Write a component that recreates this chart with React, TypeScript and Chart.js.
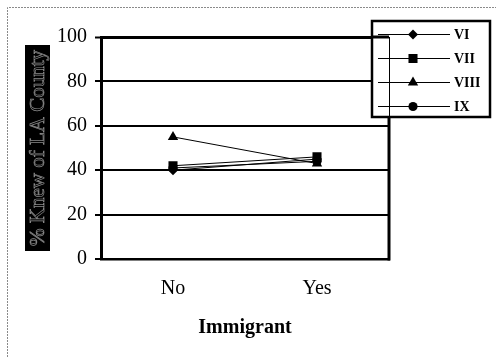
import React, { useEffect, useRef } from 'react';
import { Chart, registerables } from 'chart.js';

Chart.register(...registerables);

// Survey results: share who knew of LA County, by immigrant status
const categories = ['No', 'Yes'];
const seriesNames = ['VI', 'VII', 'VIII', 'IX'];
const seriesVI = [40, 45];
const seriesVII = [42, 46];
const seriesVIII = [55, 43];
const seriesIX = [41, 44];
const markerStyles = ['rectRot', 'rect', 'triangle', 'circle'];
const markerRadii = [5, 6.4, 6, 4.6];
const yMin = 0;
const yMax = 100;
const yStep = 20;
const yTitle = '% Knew of LA County';
const xTitle = 'Immigrant';

const SERIF = '"Liberation Serif", "Times New Roman", serif';

function drawMarker(ctx: CanvasRenderingContext2D, style: string, r: number, x: number, y: number) {
  ctx.save();
  ctx.fillStyle = '#000';
  ctx.beginPath();
  if (style === 'rectRot') {
    ctx.moveTo(x, y - r);
    ctx.lineTo(x + r, y);
    ctx.lineTo(x, y + r);
    ctx.lineTo(x - r, y);
    ctx.closePath();
  } else if (style === 'rect') {
    const s = r * Math.SQRT1_2;
    ctx.rect(x - s, y - s, 2 * s, 2 * s);
  } else if (style === 'triangle') {
    const h = r * 1.5;
    ctx.moveTo(x, y - r);
    ctx.lineTo(x + r * 0.866, y + h - r);
    ctx.lineTo(x - r * 0.866, y + h - r);
    ctx.closePath();
  } else {
    ctx.arc(x, y, r, 0, Math.PI * 2);
  }
  ctx.fill();
  ctx.restore();
}

// Page frame, rotated y-axis caption on its dark panel, plot edge and legend
const framePlugin = {
  id: 'frame',
  beforeDraw(chart: any) {
    const { ctx, width, height } = chart;
    ctx.save();
    ctx.fillStyle = '#fff';
    ctx.fillRect(0, 0, width, height);
    ctx.strokeStyle = '#8a8a8a';
    ctx.lineWidth = 1;
    ctx.setLineDash([2, 1]);
    ctx.beginPath();
    ctx.moveTo(7.5, height + 2);
    ctx.lineTo(7.5, 7.5);
    ctx.lineTo(width, 7.5);
    ctx.stroke();
    ctx.setLineDash([]);

    ctx.fillStyle = '#000';
    ctx.fillRect(25, 45, 25, 206);
    ctx.translate(37.5, 148);
    ctx.rotate(-Math.PI / 2);
    ctx.font = `21px ${SERIF}`;
    ctx.textAlign = 'center';
    ctx.textBaseline = 'middle';
    ctx.strokeStyle = '#8c8c8c';
    ctx.lineWidth = 0.7;
    ctx.strokeText(yTitle, 0, 1);
    ctx.restore();
  },
  afterDraw(chart: any) {
    const { ctx, chartArea } = chart;
    const { top, bottom, right } = chartArea;
    ctx.save();
    // right edge of the plot
    ctx.strokeStyle = '#000';
    ctx.lineWidth = 3;
    ctx.beginPath();
    ctx.moveTo(right, top - 1.5);
    ctx.lineTo(right, bottom + 1.5);
    ctx.stroke();

    // legend box
    const lx = 372, ly = 21, lw = 118, lh = 96;
    ctx.fillStyle = '#fff';
    ctx.fillRect(lx, ly, lw, lh);
    ctx.lineWidth = 1;
    ctx.beginPath();
    ctx.moveTo(right + 0.5, top);
    ctx.lineTo(right + 0.5, ly + lh);
    ctx.stroke();
    ctx.lineWidth = 3;
    ctx.beginPath();
    ctx.moveTo(lx, top);
    ctx.lineTo(right, top);
    ctx.stroke();
    ctx.lineWidth = 2.5;
    ctx.strokeRect(lx, ly, lw, lh);

    ctx.font = `bold 14px ${SERIF}`;
    ctx.textAlign = 'left';
    ctx.textBaseline = 'middle';
    ctx.fillStyle = '#000';
    chart.data.datasets.forEach((ds: any, i: number) => {
      const y = 34.5 + i * 24;
      ctx.lineWidth = 1;
      ctx.strokeStyle = '#000';
      ctx.beginPath();
      ctx.moveTo(378, y);
      ctx.lineTo(450, y);
      ctx.stroke();
      drawMarker(ctx, ds.pointStyle, ds.pointRadius, 413, y);
      ctx.fillText(ds.label, 454, y + 1);
    });
    ctx.restore();
  },
};

const seriesValues = [seriesVI, seriesVII, seriesVIII, seriesIX];

export default function App() {
  const canvasRef = useRef<HTMLCanvasElement | null>(null);

  useEffect(() => {
    if (!canvasRef.current) return;
    const chart = new Chart(canvasRef.current, {
      type: 'line',
      data: {
        labels: categories,
        datasets: seriesNames.map((name, i) => ({
          label: name,
          data: seriesValues[i],
          borderColor: '#000',
          borderWidth: 1,
          backgroundColor: '#000',
          pointStyle: markerStyles[i],
          pointRadius: markerRadii[i],
          pointBorderWidth: 0,
          pointBackgroundColor: '#000',
          tension: 0,
          fill: false,
        })),
      },
      options: {
        animation: false,
        responsive: false,
        devicePixelRatio: 1,
        layout: { padding: { left: 0, right: 107, top: 37, bottom: 0 } },
        plugins: {
          legend: { display: false },
          tooltip: { enabled: false },
        },
        scales: {
          x: {
            offset: true,
            grid: { display: false, drawTicks: false },
            border: { display: true, color: '#000', width: 2.5 },
            ticks: {
              color: '#000',
              padding: 18,
              font: { family: SERIF, size: 20 },
            },
            title: {
              display: true,
              text: xTitle,
              color: '#000',
              font: { family: SERIF, size: 20, weight: 'bold' },
              padding: { top: 0, bottom: 18 },
            },
            afterFit: (scale: any) => {
              scale.height = 99;
            },
          },
          y: {
            min: yMin,
            max: yMax,
            ticks: {
              stepSize: yStep,
              color: '#000',
              padding: 8,
              font: { family: SERIF, size: 20 },
            },
            grid: {
              color: '#000',
              lineWidth: (c: any) => (c.tick && c.tick.value === yMax ? 3 : 2),
              tickLength: 6,
              tickColor: '#000',
              tickWidth: 2,
            },
            border: { display: true, color: '#000', width: 3 },
            afterFit: (scale: any) => {
              scale.width = 101;
            },
          },
        },
      },
      plugins: [framePlugin],
    } as any);
    return () => chart.destroy();
  }, []);

  return (
    <div style={{ position: 'fixed', left: 0, top: 0, width: 496, height: 358 }}>
      <canvas ref={canvasRef} width={496} height={358} style={{ display: 'block' }} />
    </div>
  );
}
